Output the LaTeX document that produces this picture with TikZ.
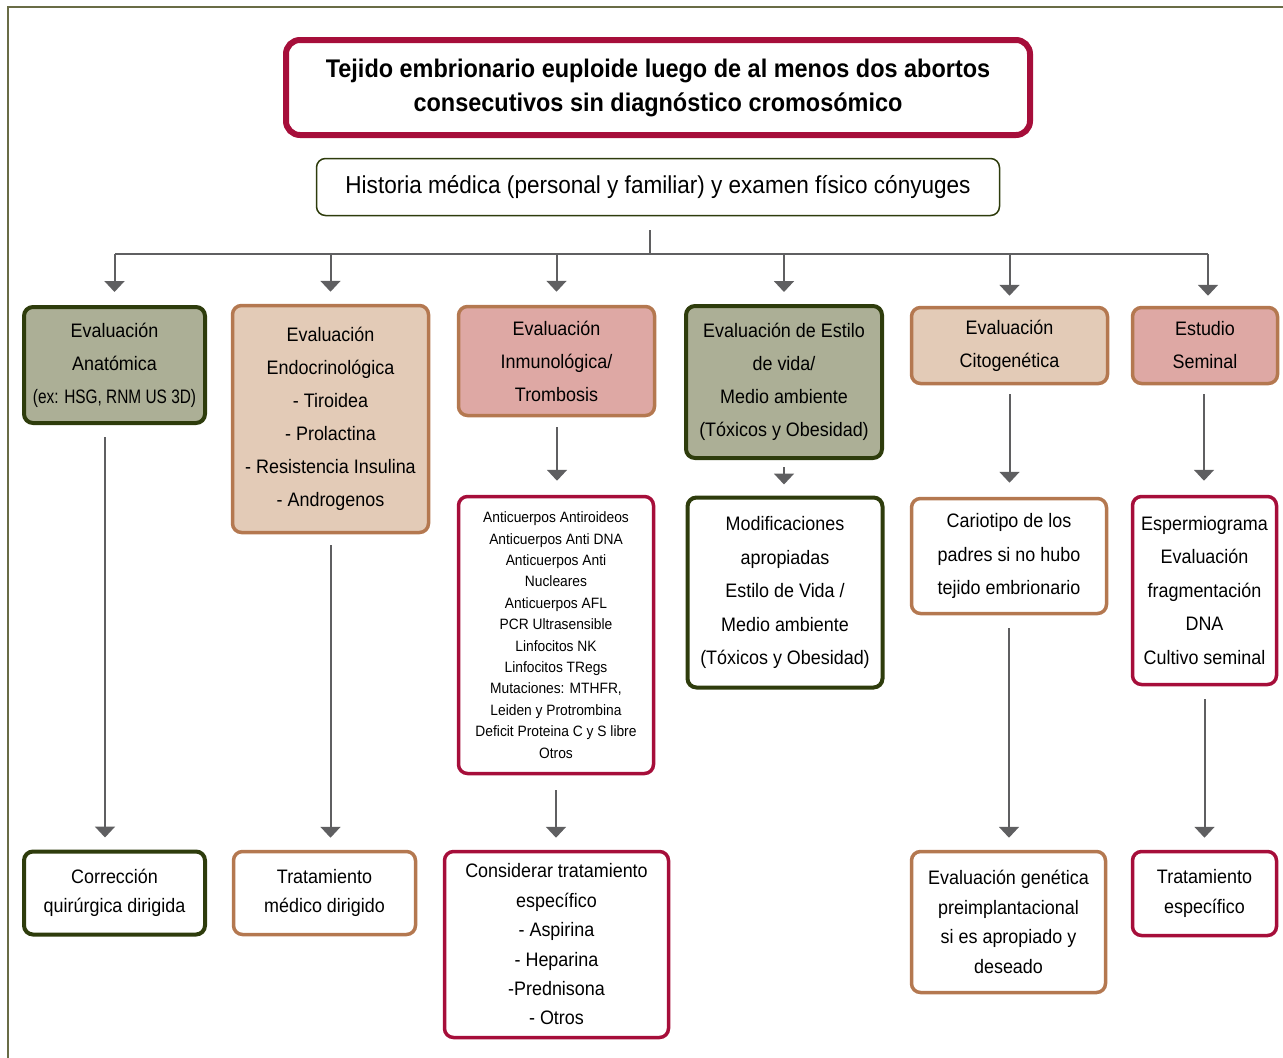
\documentclass[tikz,border=0pt]{standalone}
\usepackage{fontspec}
\setmainfont[FakeStretch=0.92]{Liberation Sans}
\newfontfamily\narrowfont[FakeStretch=0.79]{Liberation Sans}
\usetikzlibrary{arrows.meta,calc}
\definecolor{crim}{RGB}{166,14,58}
\definecolor{brownc}{RGB}{180,120,80}
\definecolor{darkolive}{RGB}{46,60,12}
\definecolor{olivefill}{RGB}{172,175,150}
\definecolor{beigefill}{RGB}{227,203,183}
\definecolor{pinkfill}{RGB}{222,168,164}
\definecolor{arrgray}{RGB}{95,95,97}
\definecolor{framec}{RGB}{105,108,70}
\tikzset{
  base/.style={rectangle, rounded corners=9pt, inner sep=0pt, align=center,
    font=\fontsize{19.5}{33}\selectfont, text=black},
  olivebox/.style={base, draw=darkolive, line width=4pt},
  brownbox/.style={base, draw=brownc, line width=3.5pt},
  crimbox/.style={base, draw=crim, line width=3.5pt},
  arr/.style={draw=arrgray, line width=2pt, -{Triangle[width=20pt,length=11pt]}},
  plain/.style={draw=arrgray, line width=2pt}
}
\begin{document}
\begin{tikzpicture}[x=1pt,y=-1pt]
\useasboundingbox (0,0) rectangle (1283,1058);
\draw[framec, line width=1.5pt] (8,7) rectangle (1300,1075);

% title
\node[base, draw=crim, line width=6pt, rounded corners=14pt, minimum width=744pt, minimum height=95pt,
      font=\fontsize{25.5}{34}\selectfont\bfseries] (title) at (658,87.5)
  {\raisebox{-3pt}{\parbox{700pt}{\centering Tejido embrionario euploide luego de al menos dos abortos\\consecutivos sin diagnóstico cromosómico}}};
\node[base, draw=darkolive, line width=1.5pt, minimum width=683pt, minimum height=57pt,
      font=\fontsize{24.5}{30}\selectfont] (hist) at (658,187)
  {Historia médica (personal y familiar) y examen físico cónyuges};

% row 1
\node[olivebox, fill=olivefill, minimum width=181pt, minimum height=116pt] (anat) at (114.5,365)
  {Evaluación\\Anatómica\\{\narrowfont (ex: HSG, RNM US 3D)}};
\node[brownbox, fill=beigefill, minimum width=196pt, minimum height=227pt] (endo) at (330.5,419)
  {Evaluación\\Endocrinológica\\- Tiroidea\\- Prolactina\\- Resistencia Insulina\\- Androgenos};
\node[brownbox, fill=pinkfill, minimum width=196pt, minimum height=109pt] (inmu) at (556.5,361)
  {Evaluación\\Inmunológica/\\Trombosis};
\node[olivebox, fill=olivefill, minimum width=196pt, minimum height=152pt] (estilo) at (784,382)
  {Evaluación de Estilo\\de vida/\\Medio ambiente\\(Tóxicos y Obesidad)};
\node[brownbox, fill=beigefill, minimum width=196pt, minimum height=76pt] (cito) at (1009.5,345.5)
  {Evaluación\\Citogenética};
\node[brownbox, fill=pinkfill, minimum width=145pt, minimum height=76pt] (semi) at (1205,345.5)
  {Estudio\\Seminal};

% row 2
\node[crimbox, fill=white, minimum width=195pt, minimum height=277pt,
      font=\fontsize{15}{21.4}\selectfont] (lista) at (556,635)
  {Anticuerpos Antiroideos\\Anticuerpos Anti DNA\\Anticuerpos Anti\\Nucleares\\Anticuerpos AFL\\PCR Ultrasensible\\Linfocitos NK\\Linfocitos TRegs\\Mutaciones: MTHFR,\\Leiden y Protrombina\\Deficit Proteina C y S libre\\Otros};
\node[olivebox, fill=white, minimum width=195pt, minimum height=190pt, font=\fontsize{19.5}{33.5}\selectfont] (modif) at (785,592.5)
  {Modificaciones\\apropiadas\\Estilo de Vida /\\Medio ambiente\\(Tóxicos y Obesidad)};
\node[brownbox, fill=white, minimum width=195pt, minimum height=115pt, font=\fontsize{19.5}{33.5}\selectfont] (cario) at (1009,556)
  {Cariotipo de los\\padres si no hubo\\tejido embrionario};
\node[crimbox, fill=white, minimum width=144pt, minimum height=188pt, font=\fontsize{19.5}{33.5}\selectfont] (esper) at (1204.5,590.5)
  {Espermiograma\\Evaluación\\fragmentación\\DNA\\Cultivo seminal};

% row 3
\node[olivebox, fill=white, minimum width=181pt, minimum height=83pt, font=\fontsize{19.5}{29.5}\selectfont] (corr) at (114.5,893)
  {Corrección\\quirúrgica dirigida};
\node[brownbox, fill=white, minimum width=182pt, minimum height=83pt, font=\fontsize{19.5}{29.5}\selectfont] (trat) at (324.5,893)
  {Tratamiento\\médico dirigido};
\node[crimbox, fill=white, minimum width=224pt, minimum height=186pt, font=\fontsize{19.5}{29.4}\selectfont] (cons) at (556.5,944.5)
  {Considerar tratamiento\\específico\\- Aspirina\\- Heparina\\-Prednisona\\- Otros};
\node[brownbox, fill=white, minimum width=194pt, minimum height=141pt, font=\fontsize{19.5}{29.6}\selectfont] (gen) at (1008.5,922)
  {Evaluación genética\\preimplantacional\\si es apropiado y\\deseado};
\node[crimbox, fill=white, minimum width=144pt, minimum height=84pt, font=\fontsize{19.5}{29.5}\selectfont] (tesp) at (1204.5,893.5)
  {Tratamiento\\específico};

% top tree
\coordinate (stem) at (650,230);
\coordinate (bus) at (650,254);
\draw[plain] (stem) -- (bus);
\draw[plain] (115,254) -- (1208,254);
\draw[arr] (bus -| anat.north) -- ($(anat.north)+(0,-13)$);
\draw[arr] (bus -| endo.north) -- ($(endo.north)+(0,-12)$);
\draw[arr] (bus -| inmu.north) -- ($(inmu.north)+(0,-13)$);
\draw[arr] (bus -| estilo.north) -- ($(estilo.north)+(0,-12)$);
\draw[arr] (bus -| cito.north) -- ($(cito.north)+(0,-10)$);
\draw[arr] ($(bus -| semi.north)+(3,0)$) -- ($(semi.north)+(3,-10)$);

% vertical connectors
\draw[arr] ($(anat.south)+(-9.5,12)$) -- ($(corr.north)+(-9.5,-12)$);
\draw[arr] ($(endo.south)+(0,11)$) -- ($(endo.south |- trat.north)+(0,-12)$);
\draw[arr] ($(inmu.south)+(0.5,10)$) -- ($(inmu.south |- lista.north)+(0.5,-14)$);
\draw[arr] ($(lista.south)+(0,15)$) -- ($(lista.south |- cons.north)+(0,-12)$);
\draw[arr] ($(estilo.south)+(0,7)$) -- ($(estilo.south |- modif.north)+(0,-11)$);
\draw[arr] ($(cito.south)+(0,9)$) -- ($(cito.south |- cario.north)+(0,-14)$);
\draw[arr] ($(cario.south)+(0,13)$) -- ($(cario.south |- gen.north)+(0,-12)$);
\draw[arr] ($(semi.south)+(-1,9)$) -- ($(semi.south |- esper.north)+(-1,-14)$);
\draw[arr] ($(esper.south)+(0,13)$) -- ($(esper.south |- tesp.north)+(0,-12)$);
\end{tikzpicture}
\end{document}
